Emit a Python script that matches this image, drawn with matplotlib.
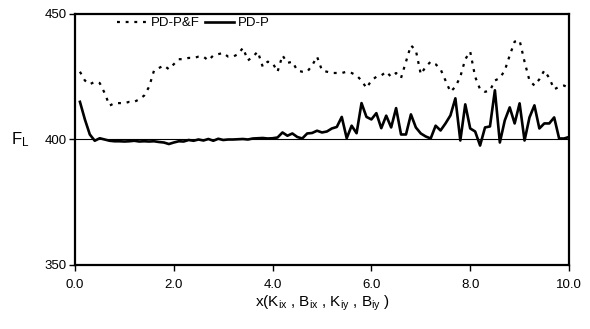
import numpy as np
import matplotlib
matplotlib.use("Agg")
import matplotlib.pyplot as plt

plt.rcParams['font.family'] = ['Liberation Sans', 'DejaVu Sans']
plt.rcParams['mathtext.fontset'] = 'custom'
plt.rcParams['mathtext.rm'] = 'Liberation Sans'
plt.rcParams['mathtext.it'] = 'Liberation Sans'

x_vals = [round(0.1 * i, 1) for i in range(1, 101)]

pd_pf = [427, 423.5, 422, 423, 422.5, 418.5, 413.5, 414.5, 414.5, 414.5,
         415, 415, 416, 417.5, 421, 427.5, 428.5, 429.5, 428, 430,
         432, 432, 432.5, 432.5, 433, 433, 431.5, 433.5, 434, 434.5,
         433, 433, 434, 436.5, 431.5, 433, 435, 429, 431, 430.5,
         427, 433.5, 430.5, 431, 427.5, 427, 427, 429.5, 433, 427.5,
         427, 426.5, 426.5, 426.5, 427, 426.5, 425.5, 423.5, 420.5, 423.5,
         425, 425.5, 427, 425, 426.5, 424.5, 431, 437.5, 435.5, 426,
         429, 431, 430, 428, 423.5, 419, 421, 425, 432, 435,
         425, 420, 419, 419.5, 423.5, 424.5, 427.5, 433.5, 439, 439.5,
         431, 423.5, 421.5, 424, 427.5, 424.5, 420, 421, 421.5, 420.5]

pd_p = [415, 408, 402, 399.5, 400.5, 400, 399.5, 399.3, 399.3, 399.2,
        399.3, 399.5, 399.2, 399.3, 399.2, 399.3, 399, 398.8, 398.2, 398.8,
        399.3, 399.2, 399.8, 399.5, 400, 399.6, 400.2, 399.5, 400.3, 399.8,
        400, 400, 400.1, 400.2, 400, 400.4, 400.5, 400.6, 400.4, 400.5,
        400.8, 402.8, 401.5, 402.4, 401, 400.4, 402.4, 402.6, 403.5, 402.8,
        403.2, 404.4, 405, 409, 400.5, 405.5, 402.5, 414.5, 409, 408,
        410.5, 404.5, 409.5, 404.8, 412.5, 402, 402, 410, 404.8, 402.4,
        401.2, 400.4, 405.5, 403.6, 406.4, 409.6, 416.4, 399.6, 414, 404.4,
        403.2, 397.6, 404.8, 405.2, 419.6, 398.8, 407.6, 412.8, 406.4, 414.4,
        399.6, 408.8, 413.6, 404.4, 406.4, 406.4, 408.8, 400.4, 400.4, 401]

x_ticks = [0.0, 2.0, 4.0, 6.0, 8.0, 10.0]
y_ticks = [350, 400, 450]
baseline = 400

fig = plt.figure(figsize=(5.9, 3.29), dpi=100)
ax = fig.add_axes([75/590, 1 - 265/329, (569 - 75)/590, (265 - 14)/329])

ax.axhline(baseline, color='black', lw=0.8, zorder=1)
ax.plot(x_vals, pd_pf, color='black', lw=1.6, linestyle=(0, (1.3, 2.6)), label='PD-P&F', zorder=2)
ax.plot(x_vals, pd_p, color='black', lw=1.9, linestyle='-', label='PD-P', zorder=3)

ax.set_xlim(0, 10)
ax.set_ylim(350, 450)
ax.set_xticks(x_ticks)
ax.set_xticklabels([f"{v:.1f}" for v in x_ticks])
ax.set_yticks(y_ticks)
ax.set_yticklabels([str(v) for v in y_ticks])
ax.tick_params(axis='both', direction='out', length=4, width=1, labelsize=9.5, colors='black')
ax.tick_params(axis='x', pad=6)
ax.tick_params(axis='y', pad=2)
for s in ax.spines.values():
    s.set_linewidth(1.6)
    s.set_color('black')

ax.set_xlabel(r"x(K$_{ix}$ , B$_{ix}$ , K$_{iy}$ , B$_{iy}$ )", fontsize=11, labelpad=2)
ax.set_ylabel(r"F$_{L}$", fontsize=12, rotation=0, labelpad=11, va='center', ha='right')

leg = ax.legend(loc='upper left', bbox_to_anchor=(0.07, 1.02), ncol=2, frameon=False,
                fontsize=9.5, handlelength=2.2, handletextpad=0.3, columnspacing=0.4,
                borderaxespad=0.2)

fig.savefig("out.png", dpi=100)
